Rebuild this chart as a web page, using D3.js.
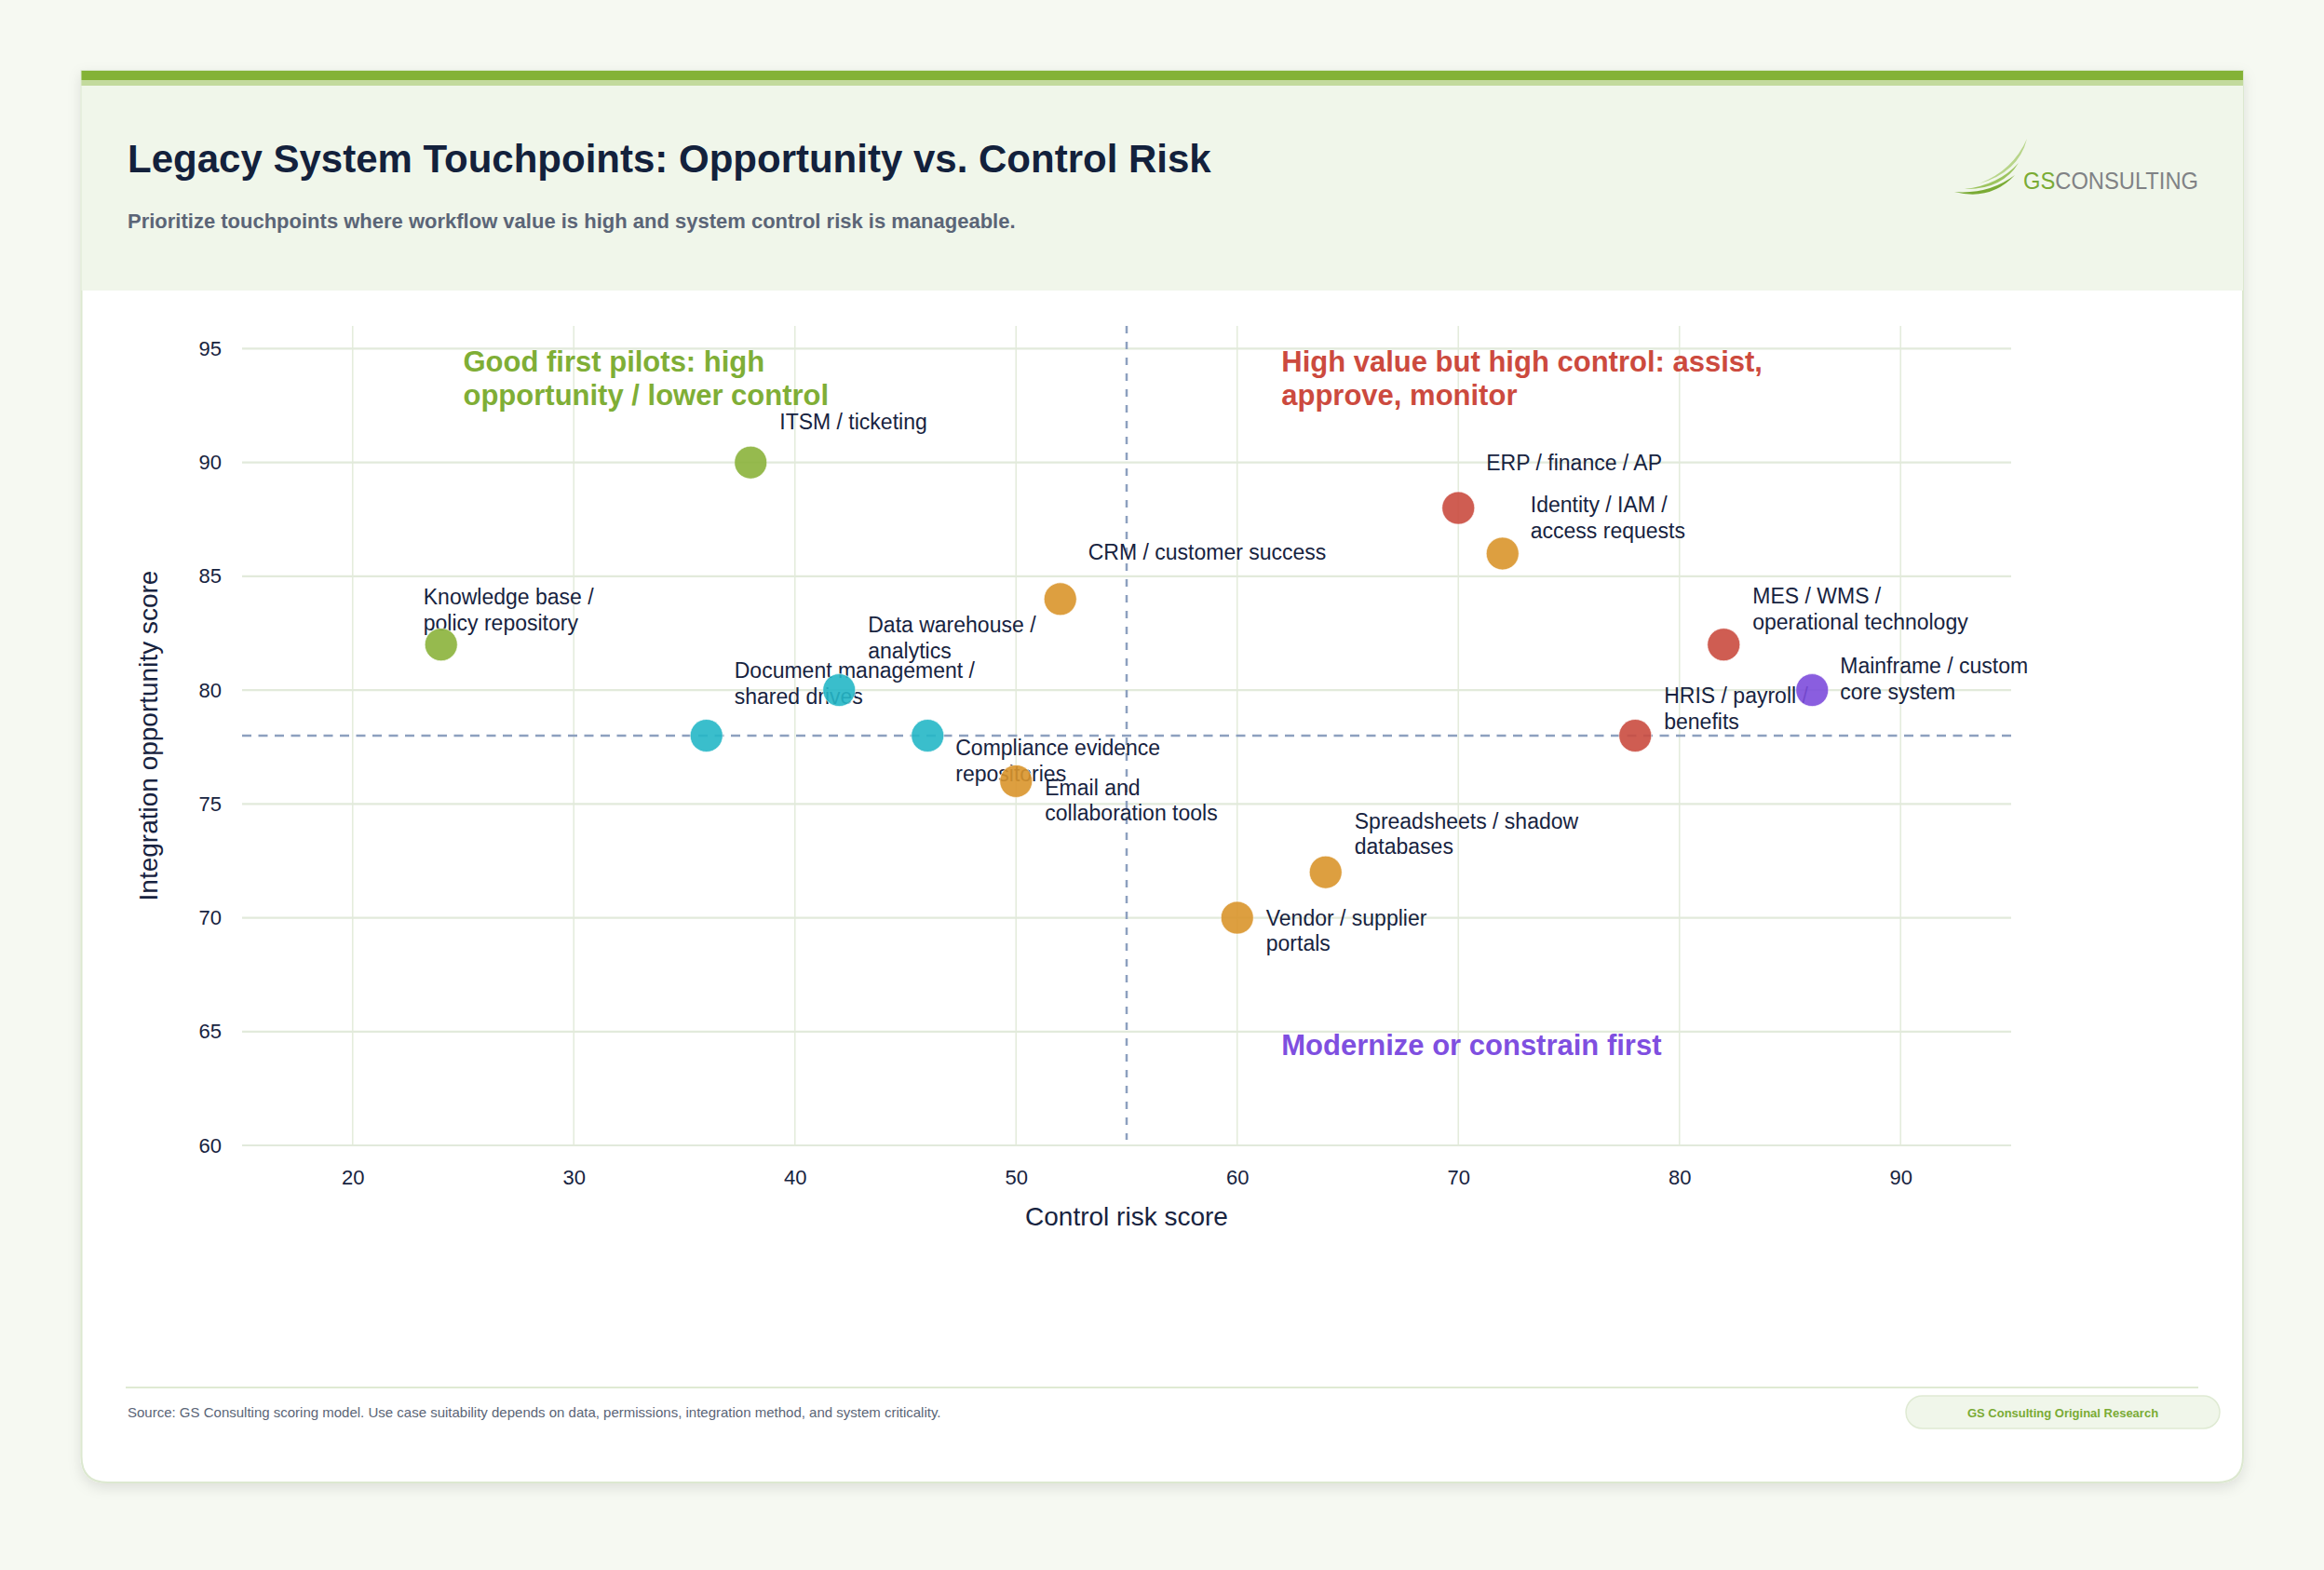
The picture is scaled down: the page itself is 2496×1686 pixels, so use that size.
<!DOCTYPE html>
<html><head><meta charset="utf-8">
<script src="https://cdn.jsdelivr.net/npm/d3@7"></script>
<style>html,body{margin:0;padding:0;background:#f6f9f2;} svg{display:block;}</style>
</head><body><svg id="chart" width="2496" height="1686"></svg>
<script>
// ---------- data ----------
const categories = [
  "Knowledge base / policy repository", "ITSM / ticketing", "Document management / shared drives",
  "Data warehouse / analytics", "Compliance evidence repositories", "Email and collaboration tools",
  "CRM / customer success", "ERP / finance / AP", "Identity / IAM / access requests",
  "Spreadsheets / shadow databases", "Vendor / supplier portals", "MES / WMS / operational technology",
  "Mainframe / custom core system", "HRIS / payroll / benefits"
];
const labelLines = [
  ["Knowledge base /", "policy repository"], ["ITSM / ticketing"], ["Document management /", "shared drives"],
  ["Data warehouse /", "analytics"], ["Compliance evidence", "repositories"], ["Email and", "collaboration tools"],
  ["CRM / customer success"], ["ERP / finance / AP"], ["Identity / IAM /", "access requests"],
  ["Spreadsheets / shadow", "databases"], ["Vendor / supplier", "portals"], ["MES / WMS /", "operational technology"],
  ["Mainframe / custom", "core system"], ["HRIS / payroll /", "benefits"]
];
const controlRisk = [24, 38, 36, 42, 46, 50, 52, 70, 72, 64, 60, 82, 86, 78];
const opportunity = [82, 90, 78, 80, 78, 76, 84, 88, 86, 72, 70, 82, 80, 78];
const segment = ["pilot", "pilot", "content", "content", "content", "workflow", "workflow",
  "control", "workflow", "workflow", "workflow", "control", "legacy", "control"];
const xTicks = [20, 30, 40, 50, 60, 70, 80, 90];
const yTicks = [60, 65, 70, 75, 80, 85, 90, 95];
const xDomain = [15, 95];
const yDomain = [60, 96];
const thresholdX = 55;
const thresholdY = 78;
const quadrantText = [["Good first pilots: high", "opportunity / lower control"],
  ["High value but high control: assist,", "approve, monitor"], ["Modernize or constrain first"]];
const quadrantX = [25, 62, 62];
const quadrantY = [95, 95, 65];
const quadrantKey = ["pilot", "control", "legacy"];

// ---------- layout / style ----------
const segColor = {pilot: "#8bb33b", content: "#25b7c7", workflow: "#d9952b", control: "#ca4b3f", legacy: "#7d4ddc"};
const quadColor = {pilot: "#7fae36", control: "#cc4a3e", legacy: "#7f4fe0"};
// label offsets (px, relative to the point centre: text start, first baseline)
const labelDx = [-19, 31, 30, 31, 30, 31, 30, 30, 30, 31, 31, 31, 30, 31];
const labelDy = [-43, -36, -62, -62, 21, 15, -42, -41, -44, -47, 8, -44, -18, -35];
const FONT = "'Liberation Sans', Arial, Helvetica, sans-serif";
const NAVY = "#172340";

const svg = d3.select("#chart").style("font-family", FONT);
const W = 2496, H = 1686;

const defs = svg.append("defs");
const f = defs.append("filter").attr("id", "sh").attr("x", "-5%").attr("y", "-5%").attr("width", "110%").attr("height", "112%");
f.append("feDropShadow").attr("dx", 0).attr("dy", 5).attr("stdDeviation", 7).attr("flood-color", "#000").attr("flood-opacity", 0.10);

svg.append("rect").attr("width", W).attr("height", H).attr("fill", "#f6f9f2");

// card
const cL = 87.5, cR = 2409, cT = 76, cB = 1592, r = 28;
svg.append("path")
  .attr("d", `M${cL},${cT} H${cR} V${cB - r} Q${cR},${cB} ${cR - r},${cB} H${cL + r} Q${cL},${cB} ${cL},${cB - r} Z`)
  .attr("fill", "#fff").attr("stroke", "#dce8d0").attr("stroke-width", 2).attr("filter", "url(#sh)");
svg.append("rect").attr("x", cL).attr("y", 92).attr("width", cR - cL).attr("height", 220).attr("fill", "#f0f6ea");
svg.append("rect").attr("x", cL).attr("y", 76).attr("width", cR - cL).attr("height", 10).attr("fill", "#84b236");
svg.append("rect").attr("x", cL).attr("y", 86).attr("width", cR - cL).attr("height", 6).attr("fill", "#c3da9d");

// title
svg.append("text").attr("x", 137).attr("y", 185).attr("font-size", 42).attr("font-weight", 700)
  .attr("fill", "#13213c").text("Legacy System Touchpoints: Opportunity vs. Control Risk");
svg.append("text").attr("x", 137).attr("y", 245).attr("font-size", 22).attr("font-weight", 700)
  .attr("fill", "#5b6577").text("Prioritize touchpoints where workflow value is high and system control risk is manageable.");

// logo
const logo = svg.append("g");
logo.append("path").attr("d", "M2126,197 Q2168,185 2177,149 Q2162,183 2126,197 Z").attr("fill", "#b8d58a");
logo.append("path").attr("d", "M2110,203 Q2150,204 2168,175 Q2146,199 2110,203 Z").attr("fill", "#9cc45e");
logo.append("path").attr("d", "M2099,206 Q2138,216 2164,188 Q2136,209 2099,206 Z").attr("fill", "#7aab35");
const lt = logo.append("text").attr("x", 2173).attr("y", 203).attr("font-size", 26)
  .attr("textLength", 188).attr("lengthAdjust", "spacingAndGlyphs");
lt.append("tspan").attr("fill", "#7aab35").text("GS");
lt.append("tspan").attr("fill", "#808285").text("CONSULTING");

// plot
const pL = 260, pR = 2160, pT = 350, pB = 1230;
const x = d3.scaleLinear().domain(xDomain).range([pL, pR]);
const y = d3.scaleLinear().domain(yDomain).range([pB, pT]);

const grid = svg.append("g");
grid.selectAll(".vg").data(xTicks).join("line")
  .attr("x1", d => x(d)).attr("x2", d => x(d)).attr("y1", pT).attr("y2", pB)
  .attr("stroke", "#e4ecdc").attr("stroke-width", 1.6);
grid.selectAll(".hg").data(yTicks).join("line")
  .attr("x1", pL).attr("x2", pR).attr("y1", d => y(d)).attr("y2", d => y(d))
  .attr("stroke", "#e2eadb").attr("stroke-width", 2.2);

const xAxis = svg.append("g").attr("transform", `translate(0,${pB})`)
  .call(d3.axisBottom(x).tickValues(xTicks).tickSize(0).tickPadding(26).tickFormat(d3.format("d")));
const yAxis = svg.append("g").attr("transform", `translate(${pL},0)`)
  .call(d3.axisLeft(y).tickValues(yTicks).tickSize(0).tickPadding(22).tickFormat(d3.format("d")));
[xAxis, yAxis].forEach(a => {
  a.select(".domain").remove();
  a.selectAll("text").attr("font-size", 22).attr("fill", NAVY).attr("font-family", FONT);
});

svg.append("text").attr("x", (pL + pR) / 2).attr("y", 1316).attr("text-anchor", "middle")
  .attr("font-size", 28).attr("fill", NAVY).text("Control risk score");
svg.append("text").attr("transform", `translate(169,${(pT + pB) / 2}) rotate(-90)`).attr("text-anchor", "middle")
  .attr("font-size", 28).attr("fill", NAVY).text("Integration opportunity score");

// threshold lines
svg.append("line").attr("x1", x(thresholdX)).attr("x2", x(thresholdX)).attr("y1", pT).attr("y2", pB - 6)
  .attr("stroke", "#8da0bf").attr("stroke-width", 2.5).attr("stroke-dasharray", "8,9");
svg.append("line").attr("x1", pL).attr("x2", pR).attr("y1", y(thresholdY)).attr("y2", y(thresholdY))
  .attr("stroke", "#8da0bf").attr("stroke-width", 2.5).attr("stroke-dasharray", "10,7.5");

// quadrant annotations
quadrantText.forEach((lines, i) => {
  const t = svg.append("text").attr("font-size", 31).attr("font-weight", 700).attr("fill", quadColor[quadrantKey[i]]);
  lines.forEach((ln, j) => t.append("tspan").attr("x", x(quadrantX[i])).attr("y", y(quadrantY[i]) + 25 + j * 36).text(ln));
});

// labels
const pts = categories.map((c, i) => ({c, lines: labelLines[i], x: controlRisk[i], y: opportunity[i], s: segment[i], dx: labelDx[i], dy: labelDy[i]}));
const lab = svg.append("g");
pts.forEach(p => {
  const t = lab.append("text").attr("font-size", 23).attr("fill", NAVY);
  p.lines.forEach((ln, j) => t.append("tspan").attr("x", x(p.x) + p.dx).attr("y", y(p.y) + p.dy + j * 27.6).text(ln));
});

// points
svg.append("g").selectAll("circle").data(pts).join("circle")
  .attr("cx", d => x(d.x)).attr("cy", d => y(d.y)).attr("r", 17.5)
  .attr("fill", d => segColor[d.s]).attr("fill-opacity", 0.9)
  .attr("stroke", "#fff").attr("stroke-opacity", 0.6).attr("stroke-width", 1);

// footer
svg.append("line").attr("x1", 135).attr("x2", 2361).attr("y1", 1490).attr("y2", 1490)
  .attr("stroke", "#dfead3").attr("stroke-width", 2);
svg.append("text").attr("x", 137).attr("y", 1521.5).attr("font-size", 15).attr("fill", "#5b6577")
  .text("Source: GS Consulting scoring model. Use case suitability depends on data, permissions, integration method, and system criticality.");
svg.append("rect").attr("x", 2047).attr("y", 1499).attr("width", 337).attr("height", 35).attr("rx", 17.5)
  .attr("fill", "#f0f6ea").attr("stroke", "#dfead3").attr("stroke-width", 1.5);
svg.append("text").attr("x", 2215.5).attr("y", 1521.5).attr("text-anchor", "middle").attr("font-size", 13)
  .attr("font-weight", 700).attr("fill", "#7aab35").text("GS Consulting Original Research");
</script>
</body></html>
